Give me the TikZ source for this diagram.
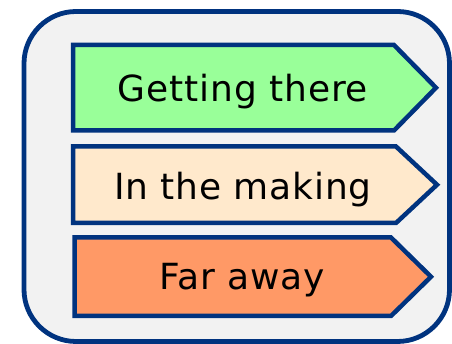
\documentclass[tikz,border=0pt]{standalone}
\usepackage{fontspec}
\setmainfont{DejaVu Sans}[LetterSpace=2.4]
\definecolor{edge}{HTML}{00337F}
\definecolor{bgc}{HTML}{F2F2F2}
\definecolor{gc}{HTML}{99FF99}
\definecolor{pc}{HTML}{FFE9CC}
\definecolor{oc}{HTML}{FF9966}
\tikzset{
  frame/.style={draw=edge, line width=4.8pt, fill=bgc, rounded corners=52pt},
  tag/.style={draw=edge, line width=4.5pt, line join=miter},
  lbl/.style={anchor=base, inner sep=0pt, font=\fontsize{36}{42}\selectfont, text=black}
}
\begin{document}
\begin{tikzpicture}[x=1pt,y=1pt]
\useasboundingbox (0,0) rectangle (452,344);
\draw[frame] (24,2.5) rectangle (449.5,332.5);
\draw[tag, fill=gc] (73,299) -- (394,299) -- (436,256.25) -- (394,213.5) -- (73,213.5) -- cycle;
\draw[tag, fill=pc] (73,197.5) -- (396,197.5) -- (437,159.25) -- (396,121) -- (73,121) -- cycle;
\draw[tag, fill=oc] (74.5,106.5) -- (391,106.5) -- (431,67.25) -- (391,28) -- (74.5,28) -- cycle;
\node[lbl] (t1) at (243,242) {Getting there};
\node[lbl] (t2) at (243,144) {In the making};
\node[lbl] (t3) at (242,54) {Far away};
\end{tikzpicture}
\end{document}
